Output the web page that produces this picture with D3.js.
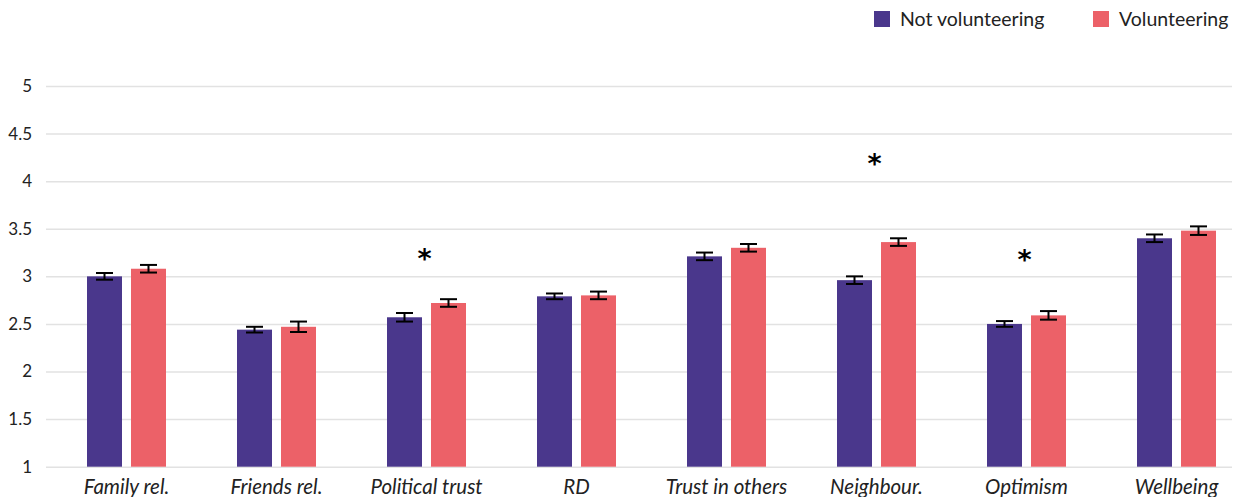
<!DOCTYPE html>
<html>
<head>
<meta charset="utf-8">
<script src="https://cdn.jsdelivr.net/npm/d3@7"></script>
<style>
  html, body { margin: 0; padding: 0; background: #fff; }
  svg { display: block; font-family: Lato, "Open Sans", sans-serif; }
</style>
</head>
<body>
<svg id="chart" width="1234" height="497"></svg>
<script>
// Outcome measures compared between the two groups
const categories = ["Family rel.", "Friends rel.", "Political trust", "RD",
                    "Trust in others", "Neighbour.", "Optimism", "Wellbeing"];
const seriesNames = ["Not volunteering", "Volunteering"];

// Mean scores
const notVolunteering = [3.00, 2.44, 2.57, 2.79, 3.21, 2.96, 2.50, 3.40];
const volunteering    = [3.08, 2.47, 2.72, 2.80, 3.30, 3.36, 2.59, 3.48];

// Half-width of the error bars
const notVolunteeringErr = [0.035, 0.03, 0.045, 0.03, 0.04, 0.04, 0.03, 0.04];
const volunteeringErr    = [0.04, 0.055, 0.04, 0.04, 0.04, 0.04, 0.045, 0.045];

// Significance markers: category and the score level where the marker sits
const sigCategories = ["Political trust", "Neighbour.", "Optimism"];
const sigLevels = [3.25, 4.25, 3.24];

const yTicks = [1, 1.5, 2, 2.5, 3, 3.5, 4, 4.5, 5];

const colors = ["#4a378c", "#ec6168"];

const svg = d3.select("#chart");

const y = d3.scaleLinear().domain([1, 5]).range([466.7, 86]);

const x0 = d3.scaleBand()
  .domain(categories)
  .range([51.5, 1251.5])
  .paddingInner(71 / 150)
  .paddingOuter(71 / 300);

const x1 = d3.scaleBand()
  .domain(seriesNames)
  .range([0, x0.bandwidth()])
  .paddingInner(9 / 44);

const color = d3.scaleOrdinal().domain(seriesNames).range(colors);

// Horizontal grid lines with tick labels
const yAxis = d3.axisLeft(y)
  .tickValues(yTicks)
  .tickSize(-(1232 - 46))
  .tickPadding(14)
  .tickFormat(d3.format("~g"));

const gy = svg.append("g")
  .attr("transform", "translate(46,0)")
  .call(yAxis);
gy.select(".domain").remove();
gy.selectAll(".tick line").attr("stroke", "#e2e2e2").attr("stroke-width", 1.5);
gy.selectAll(".tick text")
  .attr("fill", "#222")
  .attr("font-size", 17)
  .attr("font-family", "Lato, sans-serif");

// Bars and error bars
const rows = categories.map((c, i) => ({
  category: c,
  values: [
    { series: seriesNames[0], value: notVolunteering[i], err: notVolunteeringErr[i] },
    { series: seriesNames[1], value: volunteering[i], err: volunteeringErr[i] }
  ]
}));

const groups = svg.append("g").selectAll("g")
  .data(rows)
  .join("g")
  .attr("transform", d => `translate(${x0(d.category)},0)`);

groups.selectAll("rect")
  .data(d => d.values)
  .join("rect")
  .attr("x", d => x1(d.series))
  .attr("width", x1.bandwidth())
  .attr("y", d => y(d.value))
  .attr("height", d => y(1) - y(d.value))
  .attr("fill", d => color(d.series));

const capHalf = 8.5;
const errG = groups.selectAll("g.err")
  .data(d => d.values)
  .join("g")
  .attr("class", "err")
  .attr("stroke", "#000")
  .attr("stroke-width", 2)
  .attr("transform", d => `translate(${x1(d.series) + x1.bandwidth() / 2},0)`);

errG.append("line")
  .attr("x1", 0).attr("x2", 0)
  .attr("y1", d => y(d.value + d.err))
  .attr("y2", d => y(d.value - d.err));
errG.append("line")
  .attr("x1", -capHalf).attr("x2", capHalf)
  .attr("y1", d => y(d.value + d.err))
  .attr("y2", d => y(d.value + d.err));
errG.append("line")
  .attr("x1", -capHalf).attr("x2", capHalf)
  .attr("y1", d => y(d.value - d.err))
  .attr("y2", d => y(d.value - d.err));

// Significance asterisks
svg.append("g").selectAll("text")
  .data(sigCategories.map((c, i) => ({ category: c, level: sigLevels[i] })))
  .join("text")
  .attr("x", d => x0(d.category) + x0.bandwidth() / 2 - 2)
  .attr("y", d => y(d.level))
  .attr("dy", "0.56em")
  .attr("text-anchor", "middle")
  .attr("font-size", 27)
  .attr("font-weight", "bold")
  .attr("font-family", "'DejaVu Sans', sans-serif")
  .attr("fill", "#000")
  .text("*");

// Category labels
const xAxis = d3.axisBottom(x0).tickSize(0).tickPadding(13);
const gx = svg.append("g")
  .attr("transform", `translate(0,${y(1)})`)
  .call(xAxis);
gx.select(".domain").remove();
gx.selectAll(".tick text")
  .attr("fill", "#222")
  .attr("font-size", 20.5)
  .attr("font-style", "italic")
  .attr("font-family", "Lato, sans-serif");

// Legend
const legendX = [874, 1093];
const legend = svg.append("g").selectAll("g")
  .data(seriesNames)
  .join("g")
  .attr("transform", (d, i) => `translate(${legendX[i]},11)`);
legend.append("rect")
  .attr("width", 16).attr("height", 16)
  .attr("fill", d => color(d));
legend.append("text")
  .attr("x", 26).attr("y", 15)
  .attr("font-size", 19.5)
  .attr("fill", "#222")
  .text(d => d);
</script>
</body>
</html>
